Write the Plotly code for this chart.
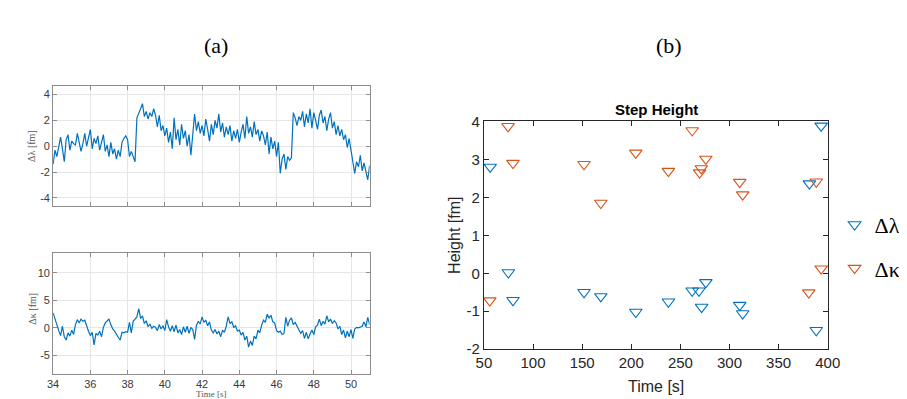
import numpy as np
import plotly.graph_objects as go

# ---------------- data ----------------
t_start, t_step = 34.0, 0.1
dlam_series = [
    -1.4, -0.3, -0.8, 0.1, 0.7, -0.2, -1.2, 0.5, 0.9, -0.3,
    0.4, 0.2, 0.1, 1.0, 0.3, -0.4, 0.2, 1.0, 0.0, 0.6,
    1.3, -0.2, 0.6, 0.2, 0.8, -0.3, 0.4, 0.9, -0.4, 0.1,
    -0.8, 0.3, -0.6, -0.2, -1.0, -0.3, -0.8, 0.3, 0.6, 0.8,
    0.5, -0.8, -0.4, -0.9, -1.2, 2.2, 2.5, 2.9, 3.3, 2.3,
    2.7, 2.1, 2.6, 2.3, 2.9, 2.4, 1.5, 2.4, 1.2, 1.6,
    0.8, 1.4, 0.3, 1.1, -0.2, 2.2, 0.5, 1.3, 0.1, 1.7,
    0.6, 1.2, 0.0, 0.9, -0.7, 1.1, 2.5, 1.2, 1.9, 1.0,
    1.6, 0.8, 2.1, 1.3, 0.4, 1.7, 0.9, 2.0, 1.4, 2.5,
    1.1, 1.8, 0.7, 1.5, 0.9, 1.6, 0.4, 1.2, 0.6, 1.3,
    0.3, 1.1, 1.7, 0.6, 2.3, 1.0, 1.5, 0.7, 1.9, 0.9,
    1.3, 0.4, 1.2, 0.8, 0.1, 1.1, -0.6, 0.7, -0.2, 0.4,
    -0.8, 0.3, -2.1, -1.0, -0.6, -1.8, -0.8, -1.1, -0.9, 2.6,
    2.2, 1.6, 2.3, 2.0, 2.7, 1.5, 2.5, 1.8, 2.9, 1.4,
    2.6, 2.0, 1.3, 2.4, 2.8, 1.8, 2.3, 1.2, 2.1, 2.6,
    1.4, 1.9, 0.9, 1.6, 0.8, 1.3, 0.5, 0.9, -0.1, 0.6,
    -0.4, -1.0, -2.1, -1.2, -1.6, -0.7, -1.9, -1.3, -2.0, -2.6,
    -1.5,
]
dkap_series = [
    2.7, 1.8, 0.6, -0.5, -1.4, 0.3, -1.6, -2.2, -0.9, -1.5,
    -0.4, -1.2, 0.6, 1.5, 0.9, 1.6, 1.2, 1.4, 0.2, -0.6,
    -1.4, -0.8, -3.1, -1.0, -1.3, -0.6, -1.6, 0.1, 0.9, 1.2,
    1.6, 0.6, -0.2, -0.6, -1.3, -1.7, -2.2, -0.8, -0.9, -0.7,
    -0.8, 1.0, -0.9, 1.2, 1.6, 2.0, 3.5, 1.7, 2.2, 0.8,
    1.3, 0.2, 0.7, -0.1, 0.3, 0.1, -0.5, 0.6, -0.2, 0.4,
    -0.5, 1.5, 0.2, -0.6, 0.4, -0.7, 0.5, -0.9, -0.3, -1.2,
    0.2, -0.8, 0.3, -1.0, 0.1, -0.3, -2.1, 0.5, 1.2, 0.7,
    2.0, 1.0, 1.4, 0.4, 1.1, -0.4, -0.9, -0.3, -1.1, -0.6,
    -1.6, -0.4, -0.8, 0.3, 2.0, 0.8, 1.1, 0.1, 0.4, -0.6,
    -0.4, -1.3, -0.8, -2.2, -1.5, -3.5, -2.4, -3.2, -1.5, -2.0,
    -0.4, -0.9, 0.5, 1.4, 1.0, 2.5, 1.8, 2.3, 1.1, 0.9,
    -0.5, -0.8, -0.6, -1.2, -1.0, 1.9, 0.3, 1.4, 1.8, 0.6,
    1.0, 0.3, -0.4, -1.0, -0.5, -1.9, -0.8, -2.0, -1.1, -0.4,
    -1.2, 0.2, 0.5, 1.6, 0.4, 1.2, 0.7, 2.2, 1.1, 1.6,
    0.8, 1.3, 0.9, -0.2, 0.3, -1.2, -0.4, -1.8, -0.6, -1.6,
    -0.3, -1.9, -0.2, 0.1, 0.0, 0.2, 0.3, 1.1, 0.2, 1.9,
    0.6,
]
time_s = np.round(t_start + t_step * np.arange(len(dlam_series)), 2)

lam_t = [56.4, 74.9, 79.6, 151.9, 169.0, 204.6, 237.8, 262.0, 268.9, 271.6,
         275.9, 310.4, 313.4, 381.3, 388.3, 393.3]
lam_h = [2.80, 0.02, -0.71, -0.50, -0.61, -1.02, -0.75, -0.46, -0.46, -0.89,
         -0.24, -0.84, -1.06, 2.36, -1.50, 3.88]
kap_t = [56.0, 74.6, 79.6, 151.9, 169.0, 204.6, 237.8, 262.0, 269.6, 271.3,
         275.9, 310.4, 313.4, 380.7, 388.3, 393.3]
kap_h = [-0.72, 3.87, 2.90, 2.87, 1.85, 3.17, 2.69, 3.76, 2.65, 2.76,
         3.01, 2.40, 2.07, -0.51, 2.41, 0.12]

left_x_ticks = [34, 36, 38, 40, 42, 44, 46, 48, 50]
top_y_ticks = [-4, -2, 0, 2, 4]
bot_y_ticks = [-5, 0, 5, 10]
right_x_ticks = [50, 100, 150, 200, 250, 300, 350, 400]
right_y_ticks = [-2, -1, 0, 1, 2, 3, 4]

# ---------------- figure ----------------
W, H = 907, 399
BLUE = "#0072BD"
ORANGE = "#D95319"


def px_x(p):
    return p / W


def px_y(p):
    return 1 - p / H


def labels(vals):
    return [str(v) for v in vals]


fig = go.Figure()
fig.add_trace(go.Scatter(x=time_s, y=dlam_series, mode="lines",
                         line=dict(color=BLUE, width=1.2), showlegend=False,
                         xaxis="x", yaxis="y"))
fig.add_trace(go.Scatter(x=time_s, y=dkap_series, mode="lines",
                         line=dict(color=BLUE, width=1.2), showlegend=False,
                         xaxis="x2", yaxis="y2"))
fig.add_trace(go.Scatter(x=lam_t, y=lam_h, mode="markers", name="Δλ",
                         marker=dict(symbol="triangle-down-open", size=11,
                                     color=BLUE, line=dict(width=1.1)),
                         legendgroup="a", xaxis="x3", yaxis="y3",
                         cliponaxis=False))
fig.add_trace(go.Scatter(x=kap_t, y=kap_h, mode="markers", name="Δκ",
                         marker=dict(symbol="triangle-down-open", size=11,
                                     color=ORANGE, line=dict(width=1.1)),
                         legendgroup="b", xaxis="x3", yaxis="y3",
                         cliponaxis=False))

left_dom = [px_x(38), px_x(362)]
left_axis = dict(showline=True, mirror="ticks", linecolor="#8c8c8c", linewidth=1,
                 ticks="inside", ticklen=4, tickcolor="#8c8c8c",
                 showgrid=True, gridcolor="#e6e6e6", gridwidth=1, zeroline=False,
                 tickfont=dict(family="Liberation Sans, Arial", size=11, color="#3a3a3a"))
right_axis = dict(showline=True, mirror="ticks", linecolor="#262626", linewidth=1,
                  ticks="inside", ticklen=5, tickcolor="#262626",
                  showgrid=False, zeroline=False,
                  tickfont=dict(family="Liberation Sans, Arial", size=15, color="#262626"))

fig.update_layout(
    width=W, height=H,
    margin=dict(l=0, r=0, t=0, b=0),
    paper_bgcolor="white", plot_bgcolor="white",
    xaxis=dict(left_axis, domain=left_dom, range=[34, 51], tickvals=left_x_ticks,
               showticklabels=False, anchor="y"),
    yaxis=dict(left_axis, domain=[px_y(197), px_y(72)], range=[-4.6, 4.67],
               tickvals=top_y_ticks, ticktext=labels(top_y_ticks), anchor="x"),
    xaxis2=dict(left_axis, domain=left_dom, range=[34, 51], tickvals=left_x_ticks,
                ticktext=labels(left_x_ticks), anchor="y2"),
    yaxis2=dict(left_axis, domain=[px_y(373), px_y(246)], range=[-8.4, 13.7],
                tickvals=bot_y_ticks, ticktext=labels(bot_y_ticks), anchor="x2"),
    xaxis3=dict(right_axis, domain=[px_x(479), px_x(831)], range=[50, 400],
                tickvals=right_x_ticks, ticktext=labels(right_x_ticks), anchor="y3"),
    yaxis3=dict(right_axis, domain=[px_y(347), px_y(109)], range=[-2, 4],
                tickvals=right_y_ticks, ticktext=labels(right_y_ticks), anchor="x3"),
    legend=dict(x=px_x(838), y=px_y(195), xanchor="left", yanchor="top",
                font=dict(family="Liberation Serif, Times New Roman", size=22, color="#000"),
                bgcolor="rgba(0,0,0,0)", traceorder="grouped", tracegroupgap=12,
                itemwidth=30),
)

ann = [
    dict(text="(a)", x=px_x(205), y=px_y(30), font=dict(family="Liberation Serif", size=22, color="#000")),
    dict(text="(b)", x=px_x(668), y=px_y(30), font=dict(family="Liberation Serif", size=22, color="#000")),
    dict(text="<b>Step Height</b>", x=px_x(656), y=px_y(97), font=dict(family="Liberation Sans, Arial", size=15, color="#000")),
    dict(text="Time [s]", x=px_x(655), y=px_y(386), font=dict(family="Liberation Sans, Arial", size=16, color="#262626")),
    dict(text="Height [fm]", x=px_x(449), y=px_y(228), textangle=-90, font=dict(family="Liberation Sans, Arial", size=16, color="#262626")),
    dict(text="Δλ [fm]", x=px_x(16), y=px_y(135), textangle=-90, font=dict(family="Liberation Serif", size=10, color="#555")),
    dict(text="Δκ [fm]", x=px_x(16), y=px_y(305), textangle=-90, font=dict(family="Liberation Serif", size=10, color="#555")),
    dict(text="Time [s]", x=px_x(200), y=px_y(394), font=dict(family="Liberation Serif", size=9, color="#555")),
]
for a in ann:
    a.update(xref="paper", yref="paper", showarrow=False, xanchor="center", yanchor="middle")
fig.update_layout(annotations=ann)

fig.write_html("out.html")
